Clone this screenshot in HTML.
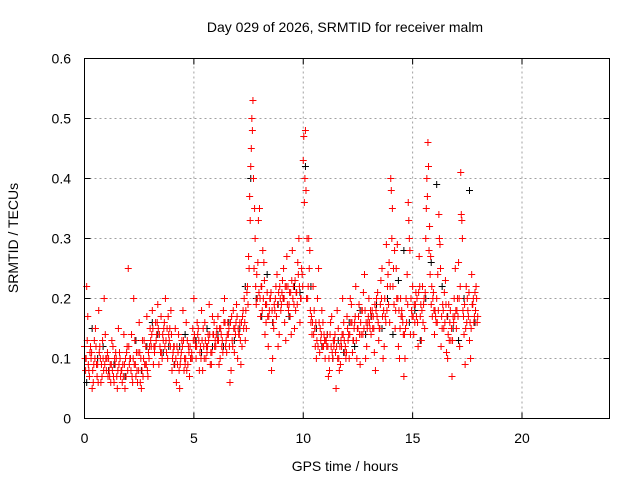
<!DOCTYPE html>
<html><head><meta charset="utf-8"><style>
html,body{margin:0;padding:0;background:#fff;}
text{font-family:"Liberation Sans",sans-serif;font-size:14px;fill:#000;}
</style></head><body>
<svg id="chart" width="640" height="480" xmlns="http://www.w3.org/2000/svg">
<rect width="640" height="480" fill="#fff"/>
<text x="345" y="32" text-anchor="middle">Day 029 of 2026, SRMTID for receiver malm</text>
<g id="grid"></g>
<g id="axes"></g>
<g id="marks"></g>
<rect x="84.5" y="58.5" width="525" height="360" fill="none" stroke="#000"/>
<text x="345" y="471" text-anchor="middle">GPS time / hours</text>
<text transform="translate(18,238) rotate(-90)" text-anchor="middle">SRMTID / TECUs</text>
</svg>
<script>
const xTicks=[0,5,10,15,20];
const yTicks=[0,0.1,0.2,0.3,0.4,0.5,0.6];
const yTickLabels=["0","0.1","0.2","0.3","0.4","0.5","0.6"];
const redA=[0.12,0.22,0.08,0.1,0.06,0.15,0.09,0.12,0.07,0.2,
0.08,0.1,0.06,0.12,0.09,0.05,0.11,0.08,0.14,0.07,
0.25,0.1,0.06,0.13,0.08,0.16,0.05,0.1,0.12,0.07,
0.15,0.18,0.11,0.14,0.09,0.17,0.13,0.2,0.1,0.15,
0.08,0.12,0.06,0.14,0.1,0.18,0.09,0.13,0.07,0.11,
0.2,0.1,0.15,0.12,0.08,0.16,0.11,0.19,0.09,0.14,
0.12,0.17,0.1,0.13,0.2,0.11,0.15,0.08,0.18,0.14,
0.1,0.16,0.12,0.2,0.15,0.27,0.42,0.53,0.3,0.2,
0.35,0.22,0.26,0.16,0.12,0.2,0.1,0.18,0.24,0.14,
0.19,0.25,0.13,0.22,0.17,0.28,0.15,0.21,0.3,0.2,
0.43,0.48,0.2,0.28,0.14,0.18,0.1,0.25,0.13,0.16,
0.1,0.14,0.08,0.17,0.12,0.05,0.15,0.09,0.2,0.11,
0.17,0.1,0.19,0.13,0.22,0.15,0.09,0.18,0.24,0.12,
0.2,0.14,0.17,0.08,0.21,0.15,0.25,0.12,0.29,0.19,
0.4,0.22,0.15,0.29,0.1,0.18,0.07,0.2,0.36,0.14,
0.22,0.16,0.2,0.27,0.13,0.19,0.3,0.46,0.24,0.17,
0.14,0.2,0.34,0.12,0.18,0.23,0.1,0.16,0.07,0.2,
0.15,0.26,0.41,0.18,0.09,0.2,0.13,0.24,0.16,0.22];
const redB=[0.08,0.17,0.11,0.05,0.13,0.09,0.18,0.06,0.1,0.14,
0.11,0.07,0.13,0.06,0.1,0.15,0.07,0.09,0.05,0.12,
0.09,0.14,0.2,0.07,0.11,0.06,0.13,0.09,0.17,0.1,
0.12,0.09,0.16,0.19,0.12,0.1,0.16,0.11,0.14,0.18,
0.11,0.15,0.09,0.05,0.13,0.08,0.16,0.12,0.1,0.15,
0.13,0.16,0.08,0.18,0.12,0.1,0.14,0.09,0.17,0.12,
0.15,0.09,0.14,0.18,0.12,0.16,0.06,0.13,0.11,0.19,
0.14,0.09,0.18,0.13,0.22,0.37,0.5,0.25,0.19,0.33,
0.17,0.28,0.14,0.21,0.18,0.08,0.15,0.22,0.12,0.2,
0.23,0.16,0.27,0.19,0.14,0.22,0.18,0.26,0.16,0.24,
0.36,0.2,0.3,0.16,0.22,0.12,0.2,0.11,0.18,0.14,
0.13,0.07,0.16,0.1,0.14,0.18,0.08,0.12,0.16,0.1,
0.13,0.2,0.11,0.16,0.1,0.19,0.14,0.21,0.1,0.16,
0.15,0.18,0.11,0.2,0.13,0.23,0.1,0.17,0.22,0.16,
0.3,0.19,0.25,0.12,0.2,0.16,0.1,0.24,0.3,0.18,
0.14,0.21,0.12,0.17,0.22,0.15,0.4,0.28,0.19,0.21,
0.17,0.24,0.29,0.15,0.21,0.11,0.19,0.13,0.17,0.25,
0.2,0.12,0.33,0.14,0.22,0.17,0.1,0.19,0.21,0.16];
const redC=[0.1,0.13,0.07,0.11,0.09,0.12,0.06,0.1,0.13,0.09,
0.1,0.08,0.09,0.07,0.11,0.08,0.1,0.06,0.09,0.11,
0.12,0.08,0.1,0.09,0.06,0.11,0.08,0.13,0.09,0.11,
0.13,0.15,0.12,0.16,0.14,0.11,0.15,0.13,0.17,0.12,
0.1,0.09,0.12,0.08,0.11,0.13,0.1,0.09,0.12,0.1,
0.14,0.12,0.13,0.1,0.15,0.13,0.12,0.14,0.11,0.16,
0.14,0.13,0.15,0.11,0.16,0.14,0.12,0.17,0.15,0.16,
0.15,0.13,0.17,0.16,0.21,0.25,0.45,0.4,0.22,0.26,
0.2,0.18,0.23,0.19,0.17,0.21,0.16,0.2,0.19,0.22,
0.21,0.2,0.22,0.18,0.21,0.2,0.23,0.19,0.22,0.25,
0.47,0.38,0.22,0.18,0.16,0.15,0.13,0.16,0.14,0.12,
0.13,0.12,0.14,0.11,0.13,0.12,0.1,0.13,0.14,0.12,
0.15,0.14,0.16,0.15,0.13,0.17,0.16,0.14,0.18,0.15,
0.16,0.17,0.15,0.18,0.16,0.19,0.17,0.2,0.18,0.26,
0.38,0.25,0.18,0.2,0.15,0.17,0.14,0.16,0.33,0.2,
0.17,0.19,0.16,0.22,0.18,0.2,0.35,0.42,0.27,0.2,
0.18,0.16,0.3,0.17,0.15,0.19,0.14,0.18,0.13,0.17,
0.18,0.2,0.34,0.17,0.15,0.18,0.16,0.19,0.17,0.2];
const redD=[0.1,0.09,0.12,0.08,0.1,0.07,0.11,0.09,0.08,0.1,
0.07,0.09,0.08,0.1,0.07,0.09,0.08,0.07,0.1,0.08,
0.1,0.07,0.09,0.11,0.08,0.1,0.07,0.09,0.08,0.12,
0.14,0.12,0.13,0.15,0.11,0.14,0.12,0.15,0.13,0.14,
0.12,0.1,0.11,0.09,0.12,0.1,0.08,0.11,0.1,0.13,
0.12,0.14,0.11,0.13,0.1,0.12,0.13,0.11,0.14,0.13,
0.13,0.15,0.12,0.16,0.13,0.14,0.16,0.12,0.15,0.17,
0.14,0.16,0.15,0.18,0.19,0.33,0.48,0.35,0.24,0.21,
0.22,0.2,0.19,0.17,0.2,0.18,0.19,0.17,0.21,0.18,
0.2,0.22,0.19,0.21,0.23,0.19,0.21,0.24,0.2,0.22,
0.4,0.3,0.25,0.17,0.14,0.16,0.12,0.15,0.12,0.13,
0.12,0.1,0.12,0.13,0.11,0.1,0.12,0.14,0.13,0.11,
0.14,0.16,0.13,0.17,0.15,0.14,0.18,0.15,0.16,0.17,
0.18,0.15,0.19,0.17,0.15,0.2,0.18,0.16,0.24,0.22,
0.35,0.28,0.2,0.18,0.17,0.14,0.15,0.19,0.28,0.17,
0.19,0.17,0.21,0.19,0.16,0.21,0.37,0.32,0.22,0.18,
0.16,0.18,0.25,0.19,0.16,0.17,0.13,0.15,0.16,0.18,
0.17,0.22,0.3,0.19,0.16,0.21,0.15,0.2,0.18,0.17];
const black=[0.06,0.15,0.1,0.12,0.08,0.09,0.11,0.07,0.1,0.13,0.08,0.12,0.16,0.14,0.11,0.12,0.09,0.12,0.14,0.1,0.13,0.11,0.15,0.12,0.14,0.12,0.16,0.13,0.15,0.22,0.4,0.2,0.17,0.24,0.16,0.19,0.2,0.17,0.22,0.21,0.42,0.22,0.15,0.12,0.14,0.1,0.13,0.11,0.16,0.12,0.18,0.14,0.17,0.19,0.15,0.2,0.14,0.23,0.28,0.16,0.18,0.13,0.2,0.26,0.39,0.22,0.17,0.15,0.13,0.2,0.38,0.16];
const redAStart=0, redBStart=0.05, redCStart=0.025, redDStart=0.075, redStep=0.1;
const blackStart=0.1, blackStep=0.25;

const NS="http://www.w3.org/2000/svg";
const X0=84.5,X1=609.5,Y0=418.5,Y1=58.5;
const xs=h=>X0+(h/24)*(X1-X0);
const ys=v=>Y0-(v/0.6)*(Y0-Y1);
const grid=document.getElementById('grid'),axes=document.getElementById('axes'),marks=document.getElementById('marks');
function mk(tag,attrs,parent){const e=document.createElementNS(NS,tag);for(const k in attrs)e.setAttribute(k,attrs[k]);parent.appendChild(e);return e;}
xTicks.forEach(t=>{
  const x=xs(t);
  if(t>0){const g=mk('line',{x1:x,x2:x,y1:Y0,y2:Y1,stroke:'#a0a0a0','stroke-dasharray':'2,3'},grid);
  
  }
  const tk=mk('path',{d:`M${x},${Y0}v-6M${x},${Y1}v6`,stroke:'#000'},axes);
  
  
  const l=mk('text',{x:x,y:443,'text-anchor':'middle'},axes);l.textContent=String(t);
  
  
});
yTicks.forEach((t,i)=>{
  const y=ys(t);
  if(i>0&&i<yTicks.length-1){const g=mk('line',{x1:X0,x2:X1,y1:y,y2:y,stroke:'#a0a0a0','stroke-dasharray':'2,3'},grid);
  
  }
  const tk=mk('path',{d:`M${X0},${y}h6M${X1},${y}h-6`,stroke:'#000'},axes);
  
  
  const l=mk('text',{x:71,y:y+5,'text-anchor':'end'},axes);l.textContent=yTickLabels[i];
  
  
});
function plus(arr,start,step,color,name){
  let d='';
  arr.forEach((v,i)=>{const x=xs(start+i*step),y=ys(v);d+=`M${x-3.5},${y}h7M${x},${y-3.5}v7`;});
  const p=mk('path',{d:d,stroke:color,'stroke-width':1,fill:'none'},marks);
  
  
}
plus(black,blackStart,blackStep,'#000','series-black-points');
plus(redA,redAStart,redStep,'#ff0000','series-red-points-a');
plus(redB,redBStart,redStep,'#ff0000','series-red-points-b');
plus(redC,redCStart,redStep,'#ff0000','series-red-points-c');
plus(redD,redDStart,redStep,'#ff0000','series-red-points-d');
</script>
</body></html>
